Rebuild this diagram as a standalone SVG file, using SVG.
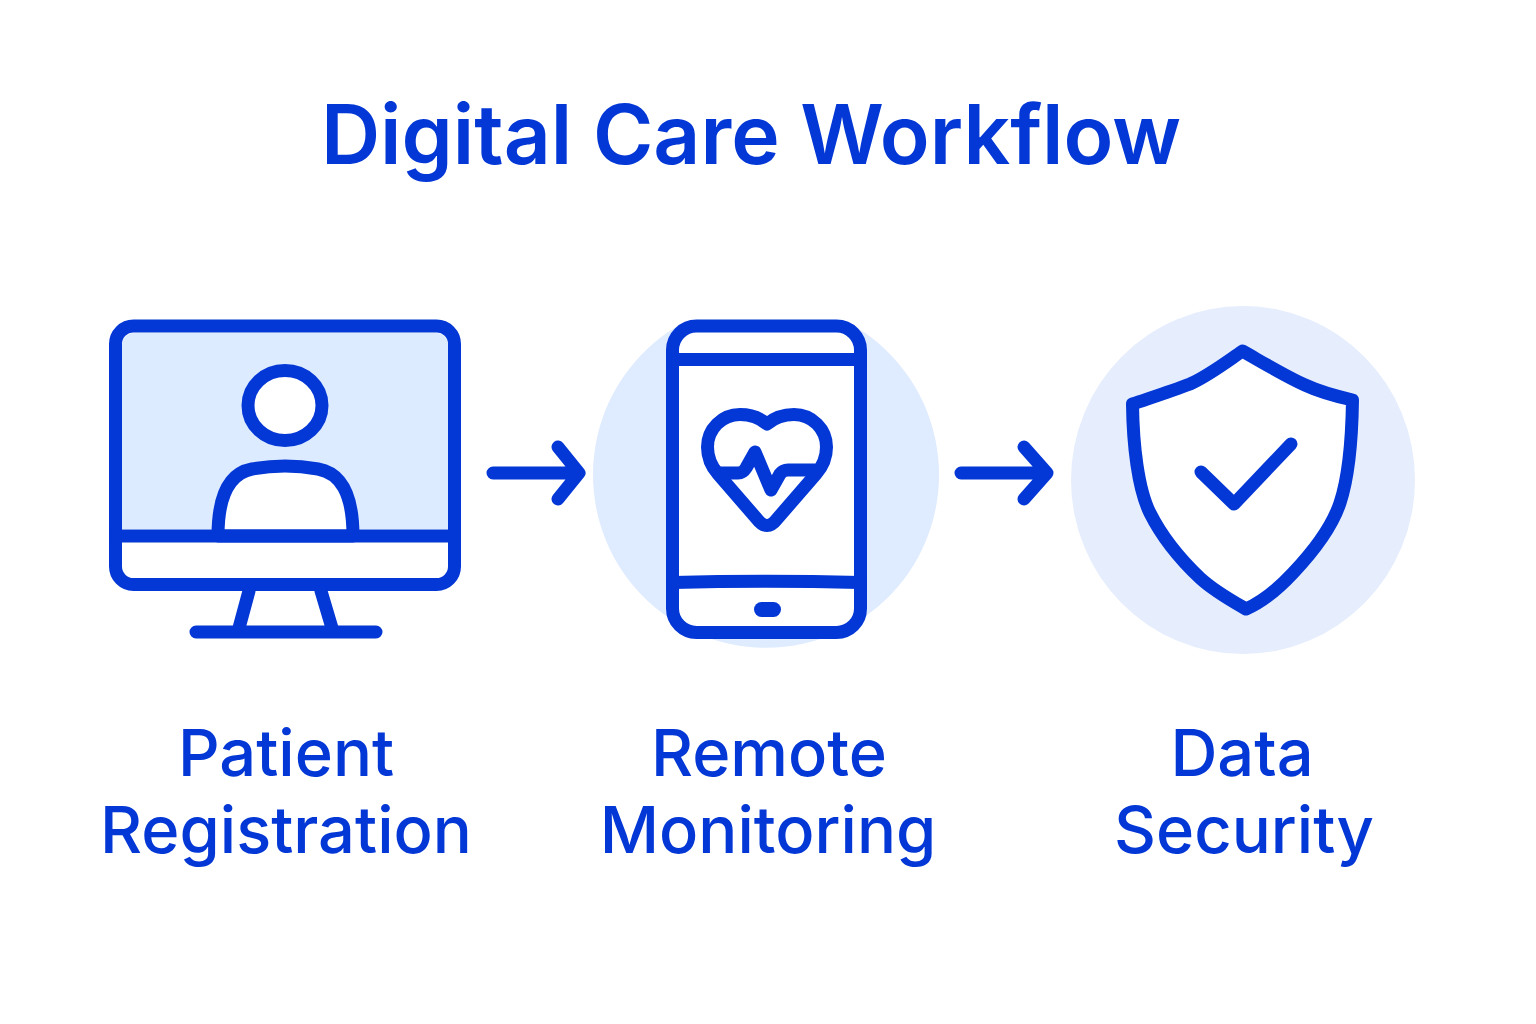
<svg xmlns="http://www.w3.org/2000/svg" width="1536" height="1024" viewBox="0 0 1536 1024">
<style>
.s{fill:none;stroke:#0337d6;stroke-width:13;stroke-linecap:round;stroke-linejoin:round}
.t{font-family:Inter,Roboto,"Liberation Sans",sans-serif;fill:#0337d6;text-anchor:middle;font-weight:500}
.l{font-size:65px}
</style>
<rect width="1536" height="1024" fill="#fff"/>
<text class="t" x="751" y="164" font-size="82" style="font-weight:600" id="title">Digital Care Workflow</text>
<g id="node-registration">
<rect x="115.500" y="326" width="339" height="258.500" rx="18" fill="#fff"/>
<path d="M122 529V345a12 12 0 0 1 12-12H436a12 12 0 0 1 12 12V529Z" fill="#dcebff"/>
<ellipse cx="285" cy="405.500" rx="37" ry="35" class="s" style="fill:#fff"/>
<path d="M218 536C218 492 231 473 252 469Q285 463 318 469C340 473 353 492 353 536Z" class="s" style="fill:#fff"/>
<rect x="115.500" y="326" width="339" height="258.500" rx="18" class="s"/>
<path d="M116 536H454M249 591L239 628M321 591L332 628M196 632H376" class="s"/>
<text class="t l" x="286" y="776">Patient</text>
<text class="t l" x="286" y="853">Registration</text>
</g>
<g id="node-monitoring">
<path d="M676 327A173 173 0 1 0 856 327Z" fill="#dfebff"/>
<rect x="672.500" y="326" width="188" height="306.500" rx="24" class="s" style="fill:#fff"/>
<path d="M673 359.500H860M673 582.500Q766 580 860 582.500" class="s"/>
<rect x="754" y="602" width="27" height="15" rx="7.500" fill="#0337d6"/>
<path d="M767 424C760 418 750 414.500 740 414.500C722 414.500 707.500 429 707.500 447C707.500 458 711 466 718 474L757 519Q767 532 777 519L816 474C823 466 826.500 458 826.500 447C826.500 429 812 414.500 794 414.500C784 414.500 774 418 767 424Z" class="s"/>
<path d="M720 473H738Q743 473 746 468L755 452L771 490L780 474Q783 470 788 470H815" class="s"/>
<text class="t l" x="769" y="776">Remote</text>
<text class="t l" x="768" y="853">Monitoring</text>
</g>
<g id="node-security">
<ellipse cx="1243" cy="480" rx="172" ry="174" fill="#e6eefd"/>
<path d="M1242.500 351C1225 363 1208 376 1190 384C1172 391 1150 398 1132.500 404C1133 445 1138 489 1150 513C1162 537 1182 561 1200 578C1214 591 1232 601 1246 609C1262 602 1279 588 1293 573C1310 555 1331 530 1340 503C1349 476 1352 435 1352.500 400C1335 396 1320 392 1305 385C1285 376 1262 362 1242.500 351Z" class="s" style="fill:#fff"/>
<path d="M1201 472L1234 504L1291 444" class="s"/>
<text class="t l" x="1242" y="776">Data</text>
<text class="t l" x="1244" y="853">Security</text>
</g>
<g id="connectors">
<path d="M493 473H579M558 447L579 473L558 499" class="s"/>
<path d="M961 473H1047M1024 447L1047 473L1024 499" class="s"/>
</g>
</svg>
